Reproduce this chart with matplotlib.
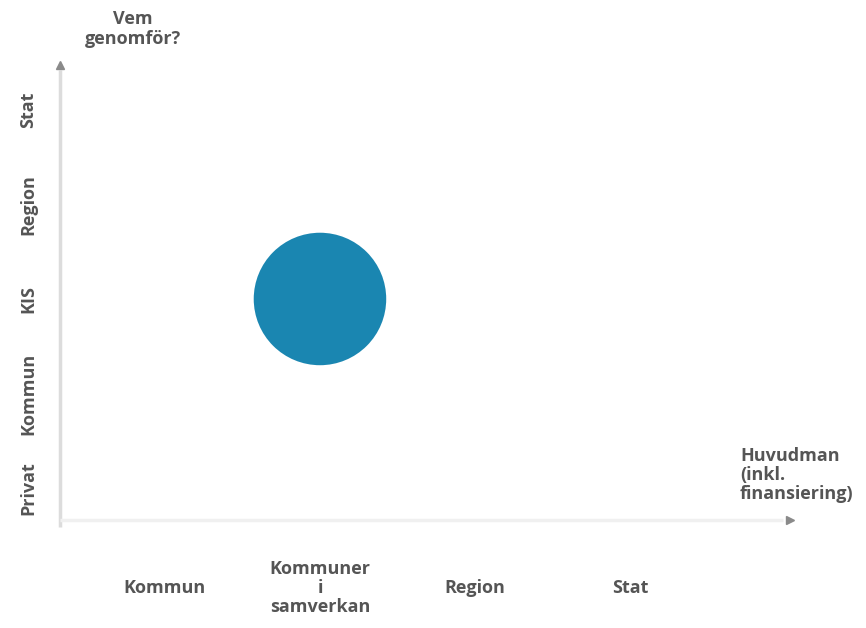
import matplotlib.pyplot as plt

# categories on each axis
x_labels = ["Kommun", "Kommuner\ni\nsamverkan", "Region", "Stat"]
y_labels = ["Privat", "Kommun", "KIS", "Region", "Stat"]

# the single point: Kommuner i samverkan / KIS
point_x = [1]
point_y = [2]

text_color = '#555555'
font = 'Open Sans'
fsize = 13

fig = plt.figure(figsize=(8.66, 6.28), dpi=100)
fig.patch.set_facecolor('white')

# axes box from the vertical axis (x=60px) to the right arrow (x=790px)
ax = fig.add_axes([60 / 866, (628 - 520) / 628, 730 / 866, 455 / 628])
ax.set_xlim(-0.677, 4.032)
ax.set_ylim(-0.339, 4.476)
for spine in ax.spines.values():
    spine.set_visible(False)

ax.scatter(point_x, point_y, s=9100, color='#1a86b1', edgecolors='none', zorder=3)

# ticks
ax.set_xticks(range(len(x_labels)), x_labels)
ax.set_yticks(range(len(y_labels)), y_labels)
ax.tick_params(axis='x', length=0, pad=49)
ax.tick_params(axis='y', length=0, pad=23)
for lbl in ax.get_xticklabels():
    lbl.set_va('center')
    lbl.set_multialignment('center')
    lbl.set_linespacing(1.05)
    lbl.set_fontfamily(font)
    lbl.set_fontweight('bold')
    lbl.set_fontsize(fsize)
    lbl.set_color(text_color)
for lbl in ax.get_yticklabels():
    lbl.set_rotation(90)
    lbl.set_ha('center')
    lbl.set_va('center')
    lbl.set_fontfamily(font)
    lbl.set_fontweight('bold')
    lbl.set_fontsize(fsize)
    lbl.set_color(text_color)

# axis lines with arrows
ax.plot([0, 0], [-0.015, 0.99], transform=ax.transAxes, color='#dcdcdc', lw=2.5,
        clip_on=False, solid_capstyle='butt')
ax.plot([0], [1], transform=ax.transAxes, marker='^', markersize=6,
        color='#8a8a8a', clip_on=False)
ax.plot([0, 0.99], [0, 0], transform=ax.transAxes, color='#f0f0f0', lw=2.5,
        clip_on=False, solid_capstyle='butt')
ax.plot([1], [0], transform=ax.transAxes, marker='>', markersize=6,
        color='#8a8a8a', clip_on=False)

# axis titles
fig.text(133 / 866, 1 - 29 / 628, "Vem\ngenomför?", ha='center', va='center',
         fontfamily=font, fontweight='bold', fontsize=fsize, color=text_color,
         linespacing=1.1)
fig.text(740 / 866, 1 - 475 / 628, "Huvudman\n(inkl.\nfinansiering)", ha='left',
         va='center', fontfamily=font, fontweight='bold', fontsize=fsize,
         color=text_color, linespacing=1.05)

fig.savefig('out.png', dpi=100)
